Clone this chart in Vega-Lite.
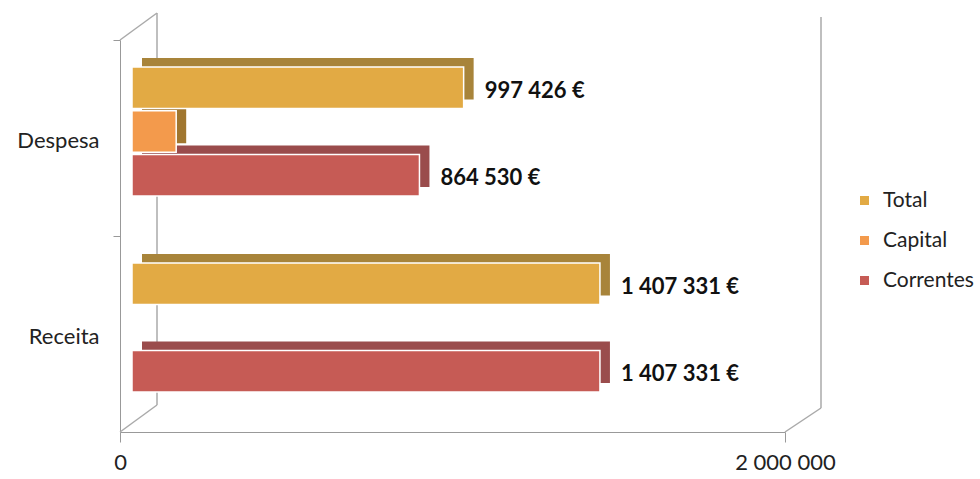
{
  "$schema": "https://vega.github.io/schema/vega-lite/v6.json",
  "autosize": {"type": "none"},
  "padding": {"left": 120, "top": 40, "right": 195, "bottom": 47},
  "width": 665,
  "height": 392,
  "background": "white",
  "config": {
    "view": {"stroke": null},
    "font": "Lato",
    "locale": {
      "number": {"decimal": ",", "thousands": " ", "grouping": [3], "currency": ["", " €"]}
    }
  },
  "data": {
    "values": [
      {"cat": "Despesa", "series": "Total", "value": 997426},
      {"cat": "Despesa", "series": "Capital", "value": 132896},
      {"cat": "Despesa", "series": "Correntes", "value": 864530},
      {"cat": "Receita", "series": "Total", "value": 1407331},
      {"cat": "Receita", "series": "Capital", "value": 0},
      {"cat": "Receita", "series": "Correntes", "value": 1407331}
    ]
  },
  "encoding": {
    "x": {
      "field": "value", "type": "quantitative",
      "scale": {"domain": [0, 2000000], "nice": false},
      "axis": {
        "title": null, "values": [0, 2000000], "labelFontSize": 22, "labelColor": "#222",
        "labelExpr": "replace(format(datum.value, ',d'), /,/g, ' ')",
        "tickSize": 10, "labelPadding": 10, "tickColor": "#999", "domainColor": "#999",
        "grid": false, "labelFlush": false
      }
    },
    "y": {
      "field": "cat", "type": "nominal", "sort": ["Despesa", "Receita"],
      "scale": {"domain": ["Despesa", "Receita"], "paddingInner": 0, "paddingOuter": 0},
      "axis": {
        "title": null, "labelFontSize": 22, "labelColor": "#222", "labelPadding": 14, "labelOffset": 3,
        "tickSize": 7, "bandPosition": 0, "tickColor": "#999", "domainColor": "#999", "grid": false
      }
    }
  },
  "layer": [
    {
      "transform": [{"filter": "datum.cat == 'Despesa' && datum.series == 'Total'"}],
      "layer": [
        {
          "mark": {"type": "rule", "color": "#aaa", "strokeWidth": 1.5, "xOffset": 37, "yOffset": -27, "y2Offset": -125},
          "encoding": {"x": {"datum": 0}, "y": {"datum": "Receita", "bandPosition": 1}, "y2": {"datum": "Despesa"}}
        },
        {
          "mark": {"type": "rule", "color": "#aaa", "strokeWidth": 1.5, "xOffset": 36, "yOffset": -24, "y2Offset": -121},
          "encoding": {"x": {"datum": 2000000}, "y": {"datum": "Receita", "bandPosition": 1}, "y2": {"datum": "Despesa"}}
        },
        {
          "mark": {"type": "rule", "color": "#aaa", "strokeWidth": 1.5, "x2Offset": 37, "y2Offset": 71},
          "encoding": {"x": {"datum": 0}, "x2": {"datum": 0}, "y": {"datum": "Receita", "bandPosition": 1}, "y2": {"datum": "Receita"}}
        },
        {
          "mark": {"type": "rule", "color": "#aaa", "strokeWidth": 1.5, "x2Offset": 37, "y2Offset": -125},
          "encoding": {"x": {"datum": 0}, "x2": {"datum": 0}, "y": {"datum": "Despesa", "bandPosition": 0}, "y2": {"datum": "Despesa"}}
        },
        {
          "mark": {"type": "rule", "color": "#aaa", "strokeWidth": 1.5, "x2Offset": 36, "y2Offset": 74},
          "encoding": {"x": {"datum": 2000000}, "x2": {"datum": 2000000}, "y": {"datum": "Receita", "bandPosition": 1}, "y2": {"datum": "Receita"}}
        }
      ]
    },
    {
      "layer": [
        {
          "mark": {"type": "bar", "xOffset": 22, "x2Offset": 12},
          "encoding": {
            "yOffset": {
              "field": "series", "type": "nominal",
              "scale": {"type": "band", "domain": ["Total", "Capital", "Correntes"], "paddingInner": 0.05, "range": [18, 147]}
            },
            "color": {
              "field": "series", "type": "nominal",
              "scale": {"domain": ["Total", "Capital", "Correntes"], "range": ["#A8843A", "#A0762F", "#9A4C4C"]},
              "legend": null
            }
          }
        },
        {
          "mark": {"type": "bar", "xOffset": 12, "x2Offset": 12, "stroke": "white", "strokeWidth": 1.5},
          "encoding": {
            "yOffset": {
              "field": "series", "type": "nominal",
              "scale": {"type": "band", "domain": ["Total", "Capital", "Correntes"], "paddingInner": 0.05, "range": [27, 156]}
            },
            "color": {
              "field": "series", "type": "nominal",
              "scale": {"domain": ["Total", "Capital", "Correntes"], "range": ["#E2AA44", "#F39A4C", "#C65B55"]},
              "legend": {
                "title": null, "orient": "none", "legendX": 734, "legendY": 150,
                "symbolType": "square", "symbolSize": 110, "labelFontSize": 21, "labelColor": "#222",
                "rowPadding": 18, "labelOffset": 8
              }
            }
          }
        },
        {
          "transform": [{"filter": "datum.series != 'Capital'"}],
          "mark": {"type": "text", "align": "left", "baseline": "middle", "dx": 33, "dy": 3, "fontSize": 22, "fontWeight": "bold", "color": "#111"},
          "encoding": {
            "yOffset": {
              "field": "series", "type": "nominal",
              "scale": {"type": "band", "domain": ["Total", "Capital", "Correntes"], "paddingInner": 0.05, "range": [27, 156]}
            },
            "text": {"field": "value", "type": "quantitative", "format": "$,d"}
          }
        }
      ],
      "resolve": {"scale": {"color": "independent", "yOffset": "independent"}}
    }
  ]
}
